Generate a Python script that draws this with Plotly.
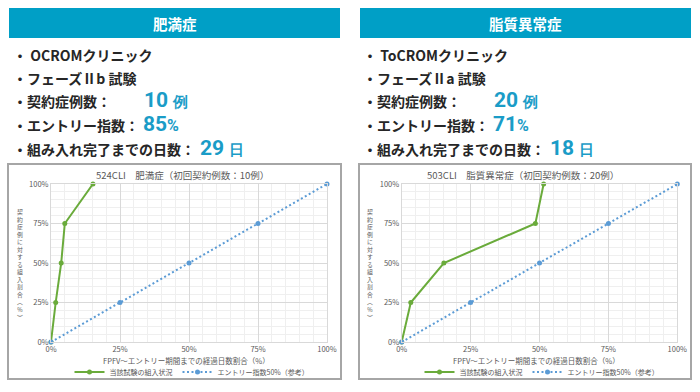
import plotly.graph_objects as go

W, H = 700, 392

# ---------------- data ----------------
left_header = "肥満症"
right_header = "脂質異常症"
left_title = "524CLI　肥満症（初回契約例数：10例）"
right_title = "503CLI　脂質異常症（初回契約例数：20例）"
x_title = "FPFV～エントリー期間までの経過日数割合（%）"
y_title_chars = ["契", "約", "症", "例", "に", "対", "す", "る", "組", "入", "割", "合", "︵", "%", "︶"]

series_actual = "当該試験の組入状況"
series_ref = "エントリー指数50%（参考）"

left_actual_x = [0, 1.7, 3.7, 5.0, 15.2]
left_actual_y = [0, 25, 50, 75, 100]
right_actual_x = [0, 3.3, 15.3, 48.5, 51.5]
right_actual_y = [0, 25, 50, 75, 100]
ref_x = [0, 25, 50, 75, 100]
ref_y = [0, 25, 50, 75, 100]

left_info = ["OCROMクリニック", "フェーズⅡb 試験"]
right_info = ["ToCROMクリニック", "フェーズⅡa 試験"]
label_cases = "契約症例数："
label_entry = "エントリー指数："
label_days = "組み入れ完了までの日数："
left_cases, left_entry, left_days = "10", "85", "29"
right_cases, right_entry, right_days = "20", "71", "18"

# ---------------- style ----------------
GREEN = "#6aab3b"
BLUE = "#5b9bd5"
HEAD = "#009fc6"
NUMC = "#1a9cc7"
TXT = "#262626"
GREY = "#595959"
JP = "Noto Sans CJK JP"
NUMF = "Liberation Sans Narrow, Roboto, Noto Sans"


def px(x):
    return x / W


def py(y):
    return 1 - y / H


fig = go.Figure()

panels = [
    dict(xa="x", ya="y", lg="legend"),
    dict(xa="x2", ya="y2", lg="legend2"),
]
act = [(left_actual_x, left_actual_y), (right_actual_x, right_actual_y)]

for p, (ax_, ay_) in zip(panels, act):
    fig.add_trace(go.Scatter(x=ax_, y=ay_, mode="lines+markers", name=series_actual,
                             line=dict(color=GREEN, width=2), marker=dict(color=GREEN, size=5),
                             xaxis=p["xa"], yaxis=p["ya"], legend=p["lg"], cliponaxis=False))
    fig.add_trace(go.Scatter(x=ref_x, y=ref_y, mode="lines+markers", name=series_ref,
                             line=dict(color=BLUE, width=2, dash="2px,2.5px"),
                             marker=dict(color=BLUE, size=5),
                             xaxis=p["xa"], yaxis=p["ya"], legend=p["lg"], cliponaxis=False))

ydom = [py(342), py(184)]
axis_common = dict(range=[0, 100], dtick=25, tick0=0, ticksuffix="%", showgrid=True,
                   gridcolor="#d9d9d9", gridwidth=1, zeroline=False, showline=True,
                   linecolor="#d9d9d9", mirror=True, ticks="", automargin=False,
                   tickfont=dict(family=JP, size=7.5, color=GREY),
                   minor=dict(dtick=5, showgrid=True, gridcolor="#efefef", gridwidth=1),
                   fixedrange=True)

fig.update_layout(
    xaxis=dict(domain=[px(51), px(327)], anchor="y", **axis_common),
    yaxis=dict(domain=ydom, anchor="x", **axis_common),
    xaxis2=dict(domain=[px(401.7), px(677.3)], anchor="y2", **axis_common),
    yaxis2=dict(domain=ydom, anchor="x2", **axis_common),
)

legend_common = dict(orientation="h", xanchor="center", yanchor="middle", y=py(372),
                     font=dict(family=JP, size=7, color=GREY), bgcolor="rgba(0,0,0,0)",
                     itemwidth=30, tracegroupgap=0)
fig.update_layout(legend=dict(x=px(192), **legend_common),
                  legend2=dict(x=px(542), **legend_common))

shapes = []
annotations = []

for off, header, title, info, cases, entry, days, bx0, bx1, hx0, hx1, tcx, xtcx, ytx in [
    (0, left_header, left_title, left_info, left_cases, left_entry, left_days, 8, 341, 9, 340, 182, 186, 20),
    (350, right_header, right_title, right_info, right_cases, right_entry, right_days, 359, 691, 360, 691, 523, 536, 370),
]:
    # header bar
    shapes.append(dict(type="rect", xref="paper", yref="paper", x0=px(hx0), x1=px(hx1),
                       y0=py(38), y1=py(8), fillcolor=HEAD, line=dict(width=0), layer="below"))
    annotations.append(dict(text="<b>%s</b>" % header, x=px((hx0 + hx1) / 2), y=py(24),
                            xref="paper", yref="paper", showarrow=False, xanchor="center",
                            yanchor="middle", font=dict(family=JP, size=14.5, color="white")))
    # chart box
    shapes.append(dict(type="rect", xref="paper", yref="paper", x0=px(bx0), x1=px(bx1),
                       y0=py(379), y1=py(164), line=dict(color="#a6a6a6", width=2),
                       fillcolor="rgba(0,0,0,0)", layer="below"))
    # info lines
    bx = off + 11
    rows = [
        ("・ " + info[0], 55, None),
        ("・" + info[1], 78, None),
        ("・" + label_cases, 101, (off + 142, cases + " <span style='font-size:15px'>例</span>")),
        ("・" + label_entry, 125, (off + 141, entry + "<span style='font-size:16px'>%</span>")),
        ("・" + label_days, 149, (off + 198, days + " <span style='font-size:15px'>日</span>")),
    ]
    for txt, yy, num in rows:
        annotations.append(dict(text="<b>%s</b>" % txt, x=px(bx), y=py(yy), xref="paper", yref="paper",
                                showarrow=False, xanchor="left", yanchor="middle",
                                font=dict(family=JP, size=14, color=TXT)))
        if num:
            annotations.append(dict(text="<b>%s</b>" % num[1], x=px(num[0]), y=py(yy - 1),
                                    xref="paper", yref="paper", showarrow=False, xanchor="left",
                                    yanchor="middle", font=dict(family=NUMF, size=21, color=NUMC)))
    # chart title
    annotations.append(dict(text=title, x=px(tcx), y=py(175), xref="paper", yref="paper",
                            showarrow=False, xanchor="center", yanchor="middle",
                            font=dict(family=JP, size=9.5, color=GREY)))
    # x axis title
    annotations.append(dict(text=x_title, x=px(xtcx), y=py(360), xref="paper", yref="paper",
                            showarrow=False, xanchor="center", yanchor="middle",
                            font=dict(family=JP, size=7.5, color=GREY)))
    # vertical y title (stacked upright characters)
    annotations.append(dict(text="<br>".join(y_title_chars), x=px(ytx), y=py(264),
                            xref="paper", yref="paper", showarrow=False, xanchor="center",
                            yanchor="middle",
                            font=dict(family=JP, size=5.8, color=GREY)))

fig.update_layout(
    width=W, height=H, margin=dict(l=0, r=0, t=0, b=0, autoexpand=False),
    paper_bgcolor="white", plot_bgcolor="white",
    shapes=shapes, annotations=annotations, showlegend=True,
)

fig.write_html("out.html", config={"displayModeBar": False},
               post_script="document.body.style.margin='0';")
